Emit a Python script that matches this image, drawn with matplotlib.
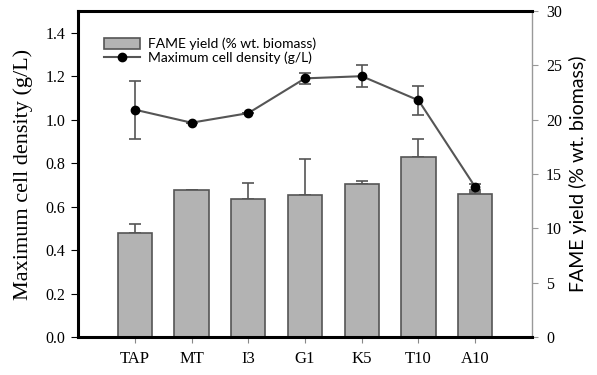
import matplotlib.pyplot as plt
from matplotlib.lines import Line2D
import numpy as np

# strains
strains = ['TAP', 'MT', 'I3', 'G1', 'K5', 'T10', 'A10']
# FAME yield (% wt. biomass), right axis
fame_yield = [9.55, 13.5, 12.7, 13.05, 14.1, 16.55, 13.15]
fame_err = [0.85, 0.0, 1.45, 3.35, 0.25, 1.7, 0.15]
# maximum cell density (g/L), left axis
cell_density = [1.046, 0.986, 1.030, 1.19, 1.20, 1.089, 0.69]
cell_err = [0.133, 0.0, 0.0, 0.025, 0.052, 0.066, 0.012]

serif = 'Liberation Serif'
sans = 'Lato'

fig = plt.figure(figsize=(5.97, 3.75), dpi=100)
ax = fig.add_axes([0.1307, 0.1013, 0.7604, 0.8694])
x = np.arange(len(strains))

# bars on the host axes
bars = ax.bar(x, fame_yield, width=0.6, color='#b3b3b3', edgecolor='#555555',
              linewidth=1.2, zorder=2)
ax.errorbar(x, fame_yield, yerr=[np.zeros(len(x)), fame_err], fmt='none',
            ecolor='#555555', elinewidth=1.2, capsize=4, capthick=1.2, zorder=1)
ax.set_xlim(-1, 7)
ax.set_ylim(0, 30)
ax.set_xticks(x)
ax.set_xticklabels(strains, family=serif, fontsize=12)
ax.tick_params(axis='x', direction='out', length=4, color='#888888', pad=6)

# line on a twin axes so it sits above the bars
ax2 = ax.twinx()
ax2.errorbar(x, cell_density, yerr=cell_err, color='#555555', lw=1.5,
             marker='o', markersize=6, markerfacecolor='black',
             markeredgecolor='black', ecolor='#555555', elinewidth=1.2,
             capsize=4, capthick=1.2)
ax2.set_ylim(0, 1.5)

# swap sides: bars axis on the right, density on the left
ax.yaxis.tick_right()
ax.yaxis.set_label_position('right')
ax2.yaxis.tick_left()
ax2.yaxis.set_label_position('left')

ax.set_yticks([0, 5, 10, 15, 20, 25, 30])
ax.set_yticklabels(['0', '5', '10', '15', '20', '25', '30'], family=serif)
ax.tick_params(axis='y', direction='out', length=4, color='#999999',
               labelsize=11.5, pad=6)
ax.set_ylabel('FAME yield (% wt. biomass)', fontsize=14, family=sans,
              labelpad=5)

ticks = np.arange(0, 1.41, 0.2)
ax2.set_yticks(ticks)
ax2.set_yticklabels([f'{v:.1f}' for v in ticks], family=serif)
ax2.tick_params(axis='y', direction='out', length=5, labelsize=11.5, pad=4)
ax2.set_ylabel('Maximum cell density (g/L)', fontsize=16, family=serif,
               labelpad=9)

for side in ['top', 'bottom', 'left']:
    ax.spines[side].set_linewidth(2.2)
    ax.spines[side].set_color('black')
ax.spines['right'].set_color('#999999')
ax.spines['right'].set_linewidth(1)
for side in ax2.spines:
    ax2.spines[side].set_visible(False)

line_handle = Line2D([], [], color='#555555', lw=1.5, marker='o',
                     markersize=6, markerfacecolor='black',
                     markeredgecolor='black')
ax2.legend([bars, line_handle],
           ['FAME yield (% wt. biomass)', 'Maximum cell density (g/L)'],
           loc='upper left', bbox_to_anchor=(0.045, 0.935), frameon=False,
           prop={'family': sans, 'size': 10}, handlelength=2.6,
           handleheight=0.8, labelspacing=0.1, borderaxespad=0,
           handletextpad=0.6)

fig.savefig('out.png', dpi=100)
